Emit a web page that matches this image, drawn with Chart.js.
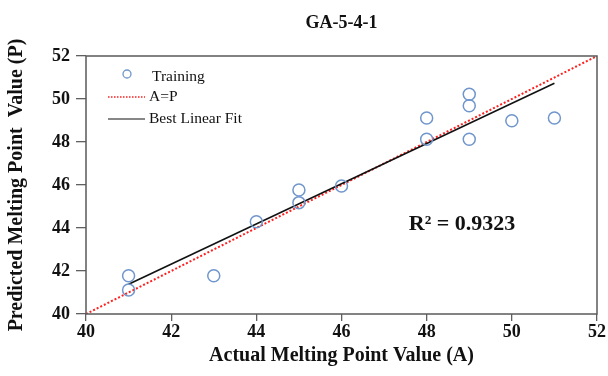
<!DOCTYPE html>
<html>
<head>
<meta charset="utf-8">
<script src="https://cdn.jsdelivr.net/npm/chart.js@4.4.1/dist/chart.umd.min.js"></script>
<style>
html,body{margin:0;padding:0;background:#fff;}
#wrap{width:608px;height:376px;position:relative;}
</style>
</head>
<body>
<div id="wrap"><canvas id="c" width="608" height="376"></canvas></div>
<script>
const chartTitle = "GA-5-4-1";
const xAxisTitle = "Actual Melting Point Value (A)";
const yAxisTitle = "Predicted Melting Point  Value (P)";
const seriesNames = ["Training", "A=P", "Best Linear Fit"];
const actualValues = [41, 41, 43, 44, 45, 45, 46, 48, 48, 49, 49, 49, 50, 51];
const predictedValues = [41.78, 41.12, 41.78, 44.29, 45.77, 45.18, 45.95, 49.12, 48.13, 50.22, 49.69, 48.13, 48.99, 49.12];
const identityX = [40, 52];
const identityY = [40, 52];
const fitX = [41, 51];
const fitY = [41.38, 50.73];
const axisMin = 40, axisMax = 52, axisStep = 2;
const rSquaredLabel = "R\u00B2 = 0.9323";

const serif = "'Liberation Serif', 'Times New Roman', serif";
const pointColor = "#7096cc";

const frameAndAnnotations = {
  id: 'frameAndAnnotations',
  afterDatasetsDraw(chart) {
    const ctx = chart.ctx, a = chart.chartArea;
    ctx.save();
    ctx.strokeStyle = '#5a5a5a';
    ctx.lineWidth = 1.5;
    ctx.strokeRect(a.left, a.top, a.right - a.left, a.bottom - a.top);
    // legend
    ctx.fillStyle = '#111';
    ctx.font = "15.5px " + serif;
    ctx.textBaseline = 'middle';
    ctx.textAlign = 'left';
    ctx.beginPath();
    ctx.strokeStyle = pointColor; ctx.lineWidth = 1.3;
    ctx.arc(a.left + 41, a.top + 18, 4, 0, Math.PI * 2);
    ctx.stroke();
    ctx.fillText(seriesNames[0], a.left + 66, a.top + 21);
    ctx.beginPath();
    ctx.strokeStyle = '#ff2020'; ctx.lineWidth = 1.5; ctx.setLineDash([1.5, 1.5]);
    ctx.moveTo(a.left + 22, a.top + 41); ctx.lineTo(a.left + 59, a.top + 41);
    ctx.stroke();
    ctx.setLineDash([]);
    ctx.fillText(seriesNames[1], a.left + 63, a.top + 41);
    ctx.beginPath();
    ctx.strokeStyle = '#111'; ctx.lineWidth = 1.2;
    ctx.moveTo(a.left + 22, a.top + 63); ctx.lineTo(a.left + 59, a.top + 63);
    ctx.stroke();
    ctx.fillText(seriesNames[2], a.left + 63, a.top + 63);
    // R squared
    ctx.font = "bold 22px " + serif;
    ctx.textAlign = 'center';
    ctx.fillText(rSquaredLabel, 462, 224);
    ctx.restore();
  }
};

new Chart(document.getElementById('c'), {
  type: 'scatter',
  data: {
    datasets: [
      {
        label: seriesNames[1],
        type: 'line',
        data: identityX.map((x, i) => ({x, y: identityY[i]})),
        borderColor: '#ff2020',
        borderWidth: 2,
        borderDash: [2, 2],
        pointRadius: 0,
        fill: false,
        order: 3
      },
      {
        label: seriesNames[2],
        type: 'line',
        data: fitX.map((x, i) => ({x, y: fitY[i]})),
        borderColor: '#111',
        borderWidth: 1.6,
        pointRadius: 0,
        fill: false,
        order: 2
      },
      {
        label: seriesNames[0],
        data: actualValues.map((x, i) => ({x, y: predictedValues[i]})),
        pointStyle: 'circle',
        pointRadius: 6,
        pointBorderWidth: 1.5,
        pointBackgroundColor: 'rgba(0,0,0,0)',
        pointBorderColor: pointColor,
        order: 1
      }
    ]
  },
  options: {
    responsive: false,
    animation: false,
    events: [],
    layout: {padding: {left: 0, right: 11, top: 0, bottom: 8}},
    plugins: {
      legend: {display: false},
      tooltip: {enabled: false},
      title: {
        display: true,
        text: chartTitle,
        fullSize: false,
        color: '#111',
        font: {family: serif, size: 18, weight: 'bold'},
        padding: {top: 13, bottom: 21.4}
      }
    },
    scales: {
      x: {
        type: 'linear',
        min: axisMin, max: axisMax,
        ticks: {stepSize: axisStep, color: '#111', font: {family: serif, size: 18, weight: 'bold'}, padding: 1},
        grid: {drawOnChartArea: false, color: '#606060', tickLength: 7, lineWidth: 1.3},
        border: {display: false},
        title: {display: true, text: xAxisTitle, color: '#111', font: {family: serif, size: 20, weight: 'bold'}, padding: {top: 3, bottom: 0}},
        afterFit(s) { s.height = 54; }
      },
      y: {
        type: 'linear',
        min: axisMin, max: axisMax,
        ticks: {stepSize: axisStep, color: '#111', font: {family: serif, size: 18, weight: 'bold'}, padding: 6},
        grid: {drawOnChartArea: false, color: '#606060', tickLength: 10, lineWidth: 1.3},
        border: {display: false},
        title: {display: true, text: yAxisTitle, color: '#111', font: {family: serif, size: 20, weight: 'bold'}, padding: {top: 5, bottom: 0}},
        afterFit(s) { s.width = 86; }
      }
    }
  },
  plugins: [frameAndAnnotations]
});
</script>
</body>
</html>
